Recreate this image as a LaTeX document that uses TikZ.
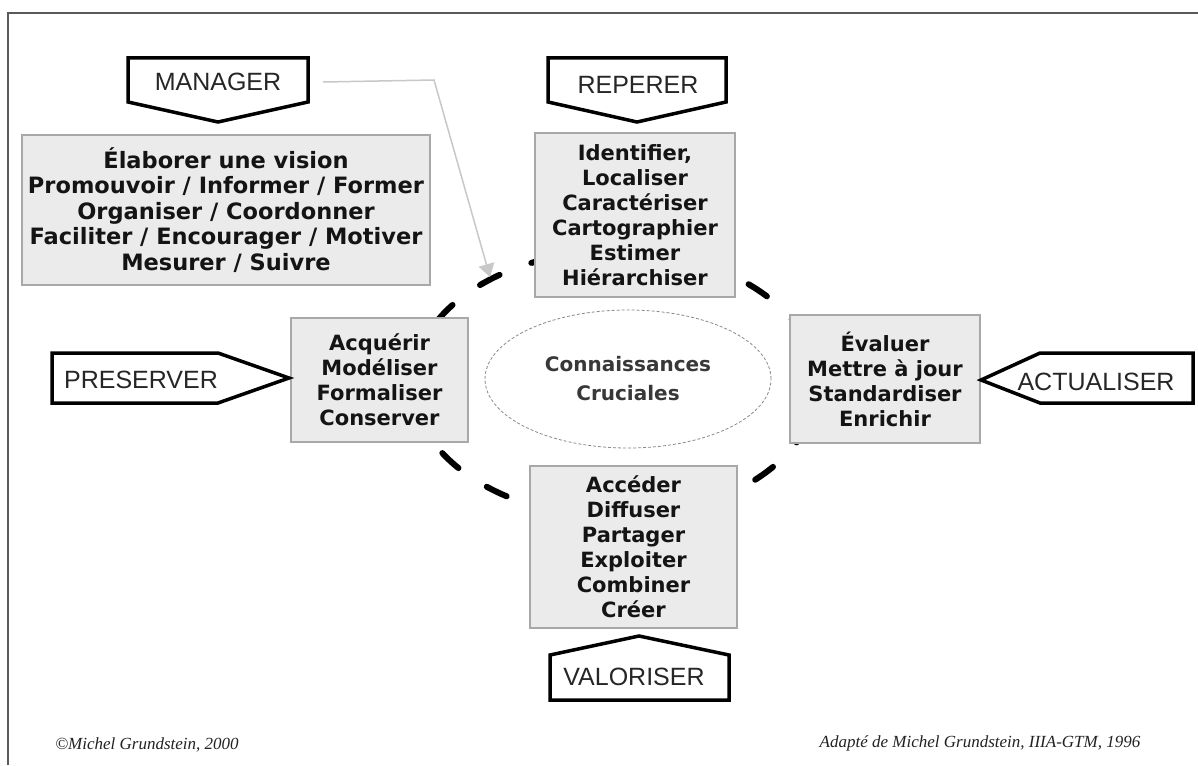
\documentclass[tikz,border=0pt]{standalone}
\usepackage{fontspec}
\setmainfont{DejaVu Sans}
\newfontfamily\labelfont{Liberation Sans}
\newfontfamily\notefont{Liberation Serif}
\usetikzlibrary{arrows.meta,shapes.geometric}
\definecolor{boxfill}{HTML}{EBEBEB}
\definecolor{boxline}{HTML}{A8A8A8}
\definecolor{ink}{HTML}{141414}
\definecolor{framegray}{HTML}{5A5A5A}
\definecolor{arrowgray}{HTML}{C8C8C8}
\definecolor{ovalline}{HTML}{8A8A8A}
\definecolor{noteink}{HTML}{222222}
\begin{document}
\begin{tikzpicture}[x=1pt,y=-1pt,
  listbox/.style={draw=boxline, line width=1.2pt, fill=boxfill, align=center,
    text=ink, font=\bfseries\fontsize{21}{25}\selectfont, inner sep=0pt},
  tagshape/.style={draw=black, line width=3.5pt, fill=white, line join=miter},
  taglabel/.style={font=\labelfont\fontsize{25}{30}\selectfont, text=black!85, inner sep=0pt},
  cycleline/.style={line width=6pt, line cap=round, dash pattern=on 22pt off 34pt, dash phase=15pt},
  note/.style={font=\notefont\itshape\fontsize{17}{19}\selectfont, text=noteink, inner sep=0pt}
]
\useasboundingbox (0,0) rectangle (1198,765);
\fill[white] (0,0) rectangle (1198,765);

% outer frame
\draw[framegray, line width=2.5pt] (8,765) -- (8,13) -- (1198,13);

% thick dashed knowledge cycle
\draw[cycleline] (615,384) ellipse [x radius=202, y radius=133];

% central oval
\node[ellipse, draw=ovalline, line width=0.8pt, dash pattern=on 3pt off 2pt,
      minimum width=286pt, minimum height=138pt, align=center,
      font=\bfseries\fontsize{20}{29}\selectfont, text=black!78] (core) at (628,379)
      {Connaissances\\Cruciales};

% activity boxes
\node[listbox, font=\bfseries\fontsize{22.5}{25.5}\selectfont,
      minimum width=408pt, minimum height=150pt] (mgrlist) at (226,210)
  {Élaborer une vision\\Promouvoir / Informer / Former\\Organiser / Coordonner\\Faciliter / Encourager / Motiver\\Mesurer / Suivre};
\node[listbox, minimum width=200pt, minimum height=164pt] (replist) at (635,215)
  {Identifier,\\Localiser\\Caractériser\\Cartographier\\Estimer\\Hiérarchiser};
\node[listbox, minimum width=177pt, minimum height=124pt] (acqlist) at (379.5,380)
  {Acquérir\\Modéliser\\Formaliser\\Conserver};
\node[listbox, minimum width=190pt, minimum height=128pt] (evalist) at (885,379)
  {Évaluer\\Mettre à jour\\Standardiser\\Enrichir};
\node[listbox, minimum width=207pt, minimum height=162pt] (acclist) at (633.5,547)
  {Accéder\\Diffuser\\Partager\\Exploiter\\Combiner\\Créer};

% pointing tags
\draw[tagshape] (128,58) -- (308,58) -- (308,102) -- (218,122) -- (128,102) -- cycle;
\node[taglabel, minimum width=180pt] (mgr) at (218,82) {MANAGER};

\draw[tagshape] (548,58) -- (726,58) -- (726,102) -- (637,122) -- (548,102) -- cycle;
\node[taglabel] (rep) at (638,85) {REPERER};

\draw[tagshape] (52,353) -- (218,353) -- (289,378) -- (218,403) -- (52,403) -- cycle;
\node[taglabel] (pres) at (141,380) {PRESERVER};

\draw[tagshape] (1193,353) -- (1040,353) -- (981,380) -- (1040,403) -- (1193,403) -- cycle;
\node[taglabel] (act) at (1096,382) {ACTUALISER};

\draw[tagshape] (550,700) -- (729,700) -- (729,655) -- (639,636) -- (550,655) -- cycle;
\node[taglabel] (val) at (634,677) {VALORISER};

% management arrow onto the cycle
\coordinate (bend) at (434,80);
\coordinate (mgrtip) at (490,277);
\draw[arrowgray, line width=1.5pt, -{Triangle[width=16pt,length=13pt]}]
  ([xshift=15pt]mgr.east) -- (bend) -- (mgrtip);

% credits
\node[note] (left) at (147,745) {©Michel Grundstein, 2000};
\node[note] (right) at (980,743) {Adapté de Michel Grundstein, IIIA-GTM, 1996};
\end{tikzpicture}
\end{document}
